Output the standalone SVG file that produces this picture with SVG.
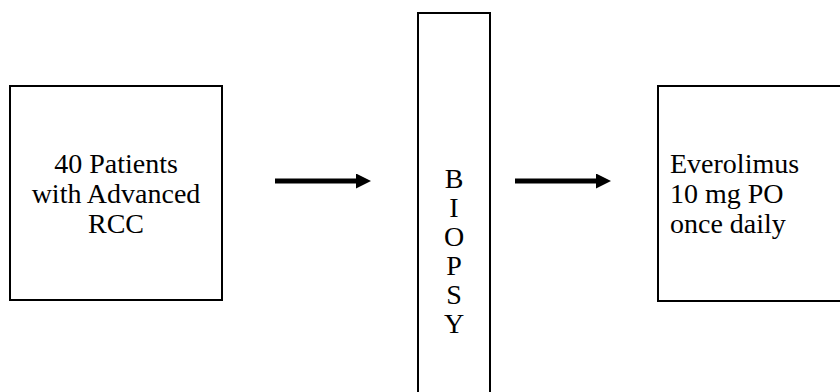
<svg xmlns="http://www.w3.org/2000/svg" width="840" height="392" viewBox="0 0 840 392">
<style>
.box{fill:#fff;stroke:#000;stroke-width:2}
.t{font-family:'Liberation Serif','Times New Roman','DejaVu Serif',serif;font-size:28px;fill:#000}
.c{text-anchor:middle}
.arr{stroke:#000;stroke-width:5;fill:none}
</style>
<defs>
<marker id="ah" markerWidth="3" markerHeight="3" refX="0" refY="1.5" orient="auto" markerUnits="strokeWidth">
<path d="M0,0 L3,1.5 L0,3 z" fill="#000"/>
</marker>
</defs>
<rect width="840" height="392" fill="#fff"/>
<g id="patients">
<rect class="box" x="10" y="86" width="212" height="214"/>
<text class="t c" x="116" y="173">40 Patients</text>
<text class="t c" x="116" y="203">with Advanced</text>
<text class="t c" x="116" y="233">RCC</text>
</g>
<g id="biopsy">
<rect class="box" x="418" y="13" width="72" height="390"/>
<text class="t c" x="454" y="188">B</text>
<text class="t c" x="454" y="217">I</text>
<text class="t c" x="454" y="246">O</text>
<text class="t c" x="454" y="275">P</text>
<text class="t c" x="454" y="304">S</text>
<text class="t c" x="454" y="333">Y</text>
</g>
<g id="everolimus">
<rect class="box" x="658" y="86" width="200" height="215"/>
<text class="t" x="670" y="173">Everolimus</text>
<text class="t" x="670" y="203">10 mg PO</text>
<text class="t" x="670" y="233">once daily</text>
</g>
<g id="connectors">
<path class="arr" d="M275,181 L356,181" marker-end="url(#ah)"/>
<path class="arr" d="M515,181 L596,181" marker-end="url(#ah)"/>
</g>
</svg>
